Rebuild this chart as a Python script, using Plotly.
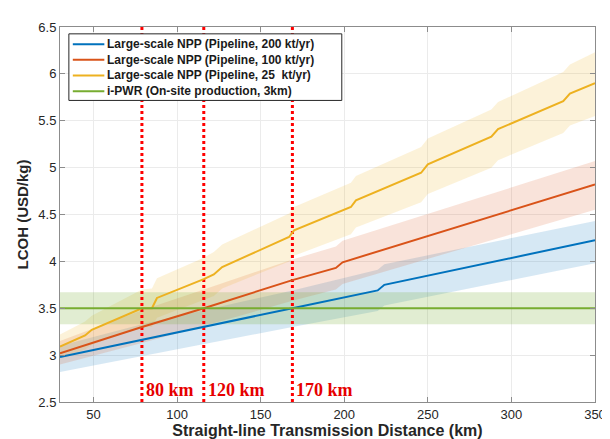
import plotly.graph_objects as go

# ---- data ----
blue_x = [30, 79, 116, 169, 220, 224, 350]
blue_y = [2.98, 3.165, 3.306, 3.50, 3.69, 3.75, 4.225]
blue_hi = [3.10, 3.33, 3.48, 3.69, 3.91, 3.97, 4.43]
blue_lo = [2.82, 2.99, 3.12, 3.30, 3.47, 3.53, 3.98]

orange_x = [30, 79, 116, 169, 195, 199, 350]
orange_y = [3.02, 3.30, 3.50, 3.80, 3.93, 3.99, 4.82]
orange_hi = [3.15, 3.48, 3.70, 4.02, 4.16, 4.22, 5.07]
orange_lo = [2.90, 3.13, 3.31, 3.58, 3.70, 3.76, 4.55]

yellow_x = [30, 45, 49, 79, 85, 88, 116, 122, 127, 167, 170, 204, 207, 246, 250, 288, 292, 331, 335, 350]
yellow_y = [3.09, 3.21, 3.27, 3.50, 3.50, 3.61, 3.81, 3.86, 3.94, 4.26, 4.33, 4.58, 4.65, 4.945, 5.035, 5.33, 5.41, 5.71, 5.79, 5.90]
yellow_hi = [3.22, 3.36, 3.42, 3.70, 3.71, 3.82, 4.04, 4.10, 4.18, 4.51, 4.58, 4.84, 4.91, 5.22, 5.31, 5.62, 5.70, 6.02, 6.10, 6.23]
yellow_lo = [2.97, 3.06, 3.11, 3.30, 3.30, 3.40, 3.59, 3.63, 3.71, 4.00, 4.06, 4.29, 4.36, 4.63, 4.72, 5.00, 5.08, 5.37, 5.45, 5.55]

green_x = [30, 350]
green_y = [3.5, 3.5]
green_hi = [3.67, 3.67]
green_lo = [3.33, 3.33]

vline_x = [79, 116, 169]
vline_labels = ["80 km", "120 km", "170 km"]

names = ["Large-scale NPP (Pipeline, 200 kt/yr)",
         "Large-scale NPP (Pipeline, 100 kt/yr)",
         "Large-scale NPP (Pipeline, 25\u00a0 kt/yr)",
         "i-PWR (On-site production, 3km)"]

colors = ["#0072BD", "#D95319", "#EDB120", "#77AC30"]
fills = ["rgba(0,114,189,0.16)", "rgba(217,83,25,0.16)",
         "rgba(237,177,32,0.17)", "rgba(119,172,48,0.22)"]

series = [
    (blue_x, blue_y, blue_hi, blue_lo),
    (orange_x, orange_y, orange_hi, orange_lo),
    (yellow_x, yellow_y, yellow_hi, yellow_lo),
    (green_x, green_y, green_hi, green_lo),
]

W, H = 610, 439
ML, MR, MT, MB = 52, 15, 13, 43
PW, PH = W - ML - MR, H - MT - MB


def px_to_paper_x(px):
    return (px - ML) / PW


def px_to_paper_y(py):
    return 1 - (py - MT) / PH


fig = go.Figure()

for (sx, sy, hi, lo), fcol in zip(series, fills):
    fig.add_trace(go.Scatter(x=list(sx) + list(sx)[::-1], y=list(hi) + list(lo)[::-1],
                             fill="toself", fillcolor=fcol, line=dict(width=0),
                             mode="lines", showlegend=False, hoverinfo="skip"))

for vx in vline_x:
    fig.add_trace(go.Scatter(x=[vx, vx], y=[2.5, 6.5], mode="lines",
                             line=dict(color="#FF0000", width=3, dash="dot"),
                             showlegend=False, hoverinfo="skip"))

for (sx, sy, hi, lo), col, nm in zip(series, colors, names):
    fig.add_trace(go.Scatter(x=sx, y=sy, mode="lines", name=nm,
                             line=dict(color=col, width=2), showlegend=False))

for vx, lab in zip(vline_x, vline_labels):
    fig.add_annotation(x=vx, y=2.5, xref="x", yref="y", text="<b>" + lab + "</b>",
                       showarrow=False, xanchor="left", yanchor="bottom",
                       xshift=2, yshift=0,
                       font=dict(family="Liberation Serif", size=18, color="#E60000"))

# MATLAB-style legend box (drawn above the data)
lg_left, lg_top, lg_right, lg_bottom = 61, 20, 338, 88
fig.add_shape(type="rect", xref="paper", yref="paper",
              x0=px_to_paper_x(lg_left), x1=px_to_paper_x(lg_right),
              y0=px_to_paper_y(lg_bottom), y1=px_to_paper_y(lg_top),
              fillcolor="white", line=dict(color="#262626", width=1), layer="above")
for i, (nm, col) in enumerate(zip(names, colors)):
    yy = px_to_paper_y(lg_top + 10.5 + 16 * i)
    fig.add_shape(type="line", xref="paper", yref="paper",
                  x0=px_to_paper_x(65), x1=px_to_paper_x(97), y0=yy, y1=yy,
                  line=dict(color=col, width=2), layer="above")
    fig.add_annotation(x=px_to_paper_x(98), y=yy, xref="paper", yref="paper",
                       text="<b>" + nm + "</b>", showarrow=False,
                       xanchor="left", yanchor="middle",
                       font=dict(family="Liberation Sans", size=12, color="#1a1a1a"))

axis_common = dict(showline=True, linecolor="#8c8c8c", linewidth=1, mirror="ticks",
                   ticks="inside", ticklen=5, tickcolor="#8c8c8c",
                   showgrid=True, gridcolor="#ebebeb", gridwidth=1, zeroline=False,
                   tickfont=dict(family="Liberation Sans", size=13, color="#262626"))

fig.update_xaxes(range=[30, 350], tickvals=[50, 100, 150, 200, 250, 300, 350],
                 ticklabeloverflow="allow",
                 title=dict(text="<b>Straight-line Transmission Distance (km)</b>",
                            font=dict(family="Liberation Sans", size=16, color="#262626"),
                            standoff=2),
                 **axis_common)
fig.update_yaxes(range=[2.5, 6.5], tickvals=[2.5, 3, 3.5, 4, 4.5, 5, 5.5, 6, 6.5],
                 ticktext=["2.5", "3", "3.5", "4", "4.5", "5", "5.5", "6", "6.5"],
                 title=dict(text="<b>LCOH (USD/kg)</b>",
                            font=dict(family="Liberation Sans", size=15, color="#262626"),
                            standoff=6),
                 **axis_common)

fig.update_layout(
    width=W, height=H,
    margin=dict(l=ML, r=MR, t=MT, b=MB),
    plot_bgcolor="white", paper_bgcolor="white",
    showlegend=False,
    font=dict(family="Liberation Sans"),
)

fig.write_html("out.html")
